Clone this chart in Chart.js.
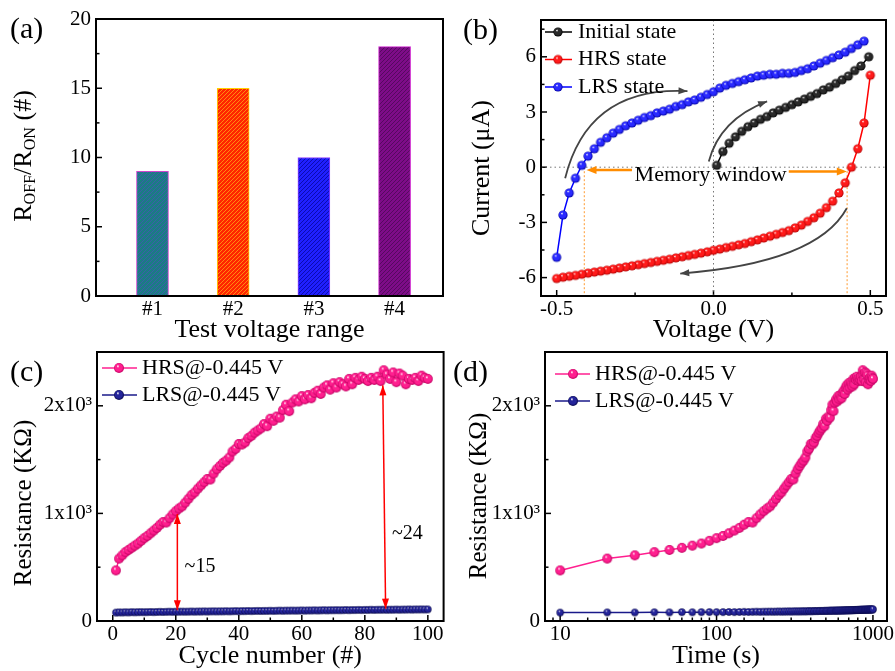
<!DOCTYPE html>
<html>
<head>
<meta charset="utf-8">
<script src="https://cdn.jsdelivr.net/npm/chart.js@4.4.0/dist/chart.umd.min.js"></script>
<style>
  body { margin: 0; background: #fff; width: 895px; height: 671px; position: relative; overflow: hidden;
         font-family: 'Liberation Serif', 'Times New Roman', serif; color: #000; }
  canvas { position: absolute; }
  .lbl { position: absolute; font-size: 30px; line-height: 1; }
  .yt { position: absolute; font-size: 26px; line-height: 1; white-space: nowrap;
        transform: translate(-50%, -50%) rotate(-90deg); }
  .yt sub { font-size: 0.62em; vertical-align: -0.28em; }
</style>
</head>
<body>
<canvas id="chartA" width="450" height="345" style="left:0;top:0"></canvas>
<canvas id="chartB" width="450" height="345" style="left:445px;top:0"></canvas>
<canvas id="chartC" width="450" height="341" style="left:0;top:330px"></canvas>
<canvas id="chartD" width="450" height="341" style="left:445px;top:330px"></canvas>

<div class="lbl" style="left:10px;top:13px">(a)</div>
<div class="lbl" style="left:463px;top:14px">(b)</div>
<div class="lbl" style="left:10px;top:356px">(c)</div>
<div class="lbl" style="left:453px;top:356px">(d)</div>

<div class="yt" style="left:24px;top:156px">R<sub>OFF</sub>/R<sub>ON</sub> (#)</div>
<div class="yt" style="left:481px;top:168px">Current (μA)</div>
<div class="yt" style="left:22px;top:503px;font-size:25px">Resistance (KΩ)</div>
<div class="yt" style="left:477px;top:496px;font-size:25px">Resistance (KΩ)</div>

<script>
// ---- data (a) ----
const rangeLabels = ['#1', '#2', '#3', '#4'];
const rangePos = [1, 2, 3, 4];
const onOffRatio = [9, 15, 10, 18];

// ---- data (b): I-V sweeps ----
const initV = [0.01, 0.03, 0.05, 0.07, 0.09, 0.11, 0.13, 0.15, 0.17, 0.19, 0.21, 0.23, 0.25,
  0.27, 0.29, 0.31, 0.33, 0.35, 0.37, 0.39, 0.41, 0.43, 0.45, 0.47, 0.495];
const initI = [0.1, 0.85, 1.3, 1.65, 1.95, 2.2, 2.4, 2.6, 2.75, 2.95, 3.1, 3.25, 3.4,
  3.55, 3.7, 3.85, 4.0, 4.2, 4.35, 4.55, 4.75, 4.95, 5.25, 5.5, 6.0];

const hrsV = [0.50, 0.48, 0.46, 0.44, 0.42, 0.40, 0.38, 0.36, 0.34, 0.32, 0.30, 0.28, 0.26,
  0.24, 0.22, 0.20, 0.18, 0.16, 0.14, 0.12, 0.10, 0.08, 0.06, 0.04, 0.02, 0.00,
  -0.02, -0.04, -0.06, -0.08, -0.10, -0.12, -0.14, -0.16, -0.18, -0.20, -0.22, -0.24,
  -0.26, -0.28, -0.30, -0.32, -0.34, -0.36, -0.38, -0.40, -0.42, -0.44, -0.46, -0.48, -0.50];
const hrsI = [5.0, 2.4, 1.0, 0.0, -0.85, -1.4, -1.85, -2.2, -2.5, -2.75, -2.95, -3.15, -3.3,
  -3.45, -3.55, -3.65, -3.75, -3.85, -3.95, -4.05, -4.15, -4.22, -4.3, -4.37, -4.45, -4.52,
  -4.6, -4.67, -4.74, -4.8, -4.87, -4.93, -5.0, -5.06, -5.12, -5.18, -5.24, -5.3,
  -5.36, -5.42, -5.48, -5.54, -5.6, -5.65, -5.7, -5.76, -5.82, -5.88, -5.93, -5.98, -6.05];

const lrsV = [-0.50, -0.48, -0.46, -0.44, -0.42, -0.40, -0.38, -0.36, -0.34, -0.32, -0.30,
  -0.28, -0.26, -0.24, -0.22, -0.20, -0.18, -0.16, -0.14, -0.12, -0.10, -0.08, -0.06,
  -0.04, -0.02, 0.00, 0.02, 0.04, 0.06, 0.08, 0.10, 0.12, 0.14, 0.16, 0.18, 0.20, 0.22,
  0.24, 0.26, 0.28, 0.30, 0.32, 0.34, 0.36, 0.38, 0.40, 0.42, 0.44, 0.46, 0.48];
const lrsI = [-4.9, -2.6, -1.4, -0.6, 0.1, 0.6, 1.0, 1.35, 1.6, 1.85, 2.05,
  2.25, 2.4, 2.55, 2.7, 2.8, 2.95, 3.05, 3.15, 3.3, 3.4, 3.55, 3.65,
  3.8, 3.95, 4.1, 4.3, 4.45, 4.55, 4.65, 4.75, 4.85, 4.95, 5.0, 5.05, 5.05, 5.1,
  5.1, 5.15, 5.25, 5.35, 5.5, 5.65, 5.8, 5.95, 6.1, 6.25, 6.45, 6.65, 6.85];

// ---- data (c)/(d): resistance at -0.445 V ----
const cycles = [1, 2, 3, 4, 5, 6, 7, 8, 9, 10, 11, 12, 13, 14, 15, 16, 17, 18, 19, 20,
  21, 22, 23, 24, 25, 26, 27, 28, 29, 30, 31, 32, 33, 34, 35, 36, 37, 38, 39, 40,
  41, 42, 43, 44, 45, 46, 47, 48, 49, 50, 51, 52, 53, 54, 55, 56, 57, 58, 59, 60,
  61, 62, 63, 64, 65, 66, 67, 68, 69, 70, 71, 72, 73, 74, 75, 76, 77, 78, 79, 80,
  81, 82, 83, 84, 85, 86, 87, 88, 89, 90, 91, 92, 93, 94, 95, 96, 97, 98, 99, 100];
const times = [10, 20, 30, 40, 50, 60, 70, 80, 90, 100, 110, 120, 130, 140, 150, 160, 170, 180, 190, 200,
  210, 220, 230, 240, 250, 260, 270, 280, 290, 300, 310, 320, 330, 340, 350, 360, 370, 380, 390, 400,
  410, 420, 430, 440, 450, 460, 470, 480, 490, 500, 510, 520, 530, 540, 550, 560, 570, 580, 590, 600,
  610, 620, 630, 640, 650, 660, 670, 680, 690, 700, 710, 720, 730, 740, 750, 760, 770, 780, 790, 800,
  810, 820, 830, 840, 850, 860, 870, 880, 890, 900, 910, 920, 930, 940, 950, 960, 970, 980, 990, 1000];
const hrsR = [470, 580, 610, 640, 660, 680, 700, 720, 745, 770,
  790, 815, 840, 865, 895, 920, 915, 955, 990, 1020,
  1045, 1065, 1100, 1135, 1170, 1195, 1230, 1260, 1290, 1320,
  1315, 1370, 1410, 1440, 1470, 1490, 1520, 1575, 1600, 1645,
  1640, 1660, 1700, 1720, 1750, 1770, 1790, 1830, 1810, 1880,
  1860, 1900, 1890, 1960, 2010, 1950, 2030, 2060, 2040, 2090,
  2060, 2100, 2070, 2120, 2140, 2110, 2170, 2190, 2150, 2210,
  2170, 2220, 2200, 2180, 2250, 2200, 2260, 2240, 2270, 2250,
  2230, 2260, 2240, 2270, 2230, 2330, 2290, 2250, 2310, 2220,
  2300, 2280, 2200, 2250, 2240, 2260, 2230, 2280, 2260, 2250];
const lrsR = [78, 80, 79, 81, 80, 82, 81, 82, 83, 82, 83, 84, 83, 84, 85, 84, 85, 86, 85, 86,
  86, 87, 86, 87, 88, 87, 88, 88, 89, 88, 89, 90, 89, 90, 90, 91, 90, 91, 92, 91,
  92, 92, 93, 92, 93, 94, 93, 94, 94, 95, 94, 95, 96, 95, 96, 96, 97, 96, 97, 98,
  97, 98, 98, 99, 98, 99, 100, 99, 100, 100, 101, 100, 101, 102, 101, 102, 102, 103, 102, 103,
  103, 104, 103, 104, 104, 105, 104, 105, 105, 106, 105, 106, 106, 107, 106, 107, 107, 108, 107, 108];

// ---- annotation spots (data units) ----
const windowEdges = [-0.412, 0.426];
const ratioNotes = [
  { from: [20.5, 100], to: [20.5, 995], text: '~15', at: [22.8, 505] },
  { from: [86.6, 115], to: [85.7, 2190], text: '~24', at: [88.6, 810] }
];

// ---- common ----
const FONT = "'Liberation Serif', 'Times New Roman', serif";
Chart.defaults.font.family = FONT;
Chart.defaults.color = '#000';

function pts(xs, ys) { return xs.map((x, i) => ({ x: x, y: ys[i] })); }

function ball(color, dark, r) {
  const c = document.createElement('canvas');
  const s = Math.ceil(r * 2 + 2);
  c.width = c.height = s;
  const g = c.getContext('2d');
  const m = s / 2;
  const grad = g.createRadialGradient(m - r * 0.25, m - r * 0.4, r * 0.05, m, m, r);
  grad.addColorStop(0, '#ffffff');
  grad.addColorStop(0.25, color);
  grad.addColorStop(0.7, color);
  grad.addColorStop(1, dark);
  g.fillStyle = grad;
  g.beginPath(); g.arc(m, m, r, 0, Math.PI * 2); g.fill();
  return c;
}

function hatch(base, stripe) {
  const c = document.createElement('canvas');
  c.width = c.height = 4;
  const g = c.getContext('2d');
  g.fillStyle = base; g.fillRect(0, 0, 4, 4);
  g.strokeStyle = stripe; g.lineWidth = 1;
  g.beginPath();
  g.moveTo(0, 4); g.lineTo(4, 0);
  g.moveTo(-2, 2); g.lineTo(2, -2);
  g.moveTo(2, 6); g.lineTo(6, 2);
  g.stroke();
  return g.createPattern(c, 'repeat');
}

function line(ctx, x1, y1, x2, y2) { ctx.beginPath(); ctx.moveTo(x1, y1); ctx.lineTo(x2, y2); ctx.stroke(); }

function head(ctx, fx, fy, tx, ty, len, wid) {
  const a = Math.atan2(ty - fy, tx - fx);
  ctx.beginPath();
  ctx.moveTo(tx, ty);
  ctx.lineTo(tx - len * Math.cos(a) + wid * Math.sin(a), ty - len * Math.sin(a) - wid * Math.cos(a));
  ctx.lineTo(tx - len * Math.cos(a) - wid * Math.sin(a), ty - len * Math.sin(a) + wid * Math.cos(a));
  ctx.closePath(); ctx.fill();
}

// box around the plot + inward tick marks (long where labelled, short otherwise)
const frame = {
  id: 'frame',
  beforeDatasetsDraw(chart) {
    const { ctx, chartArea: a } = chart;
    ctx.save();
    ctx.strokeStyle = '#000'; ctx.lineWidth = 1.5;
    Object.values(chart.scales).forEach(s => {
      s.ticks.forEach(t => {
        const p = s.getPixelForValue(t.value);
        const len = (t.label !== '' && t.label != null) ? 6 : 3.5;
        if (s.isHorizontal()) {
          if (p > a.left + 1 && p < a.right - 1) line(ctx, p, a.bottom, p, a.bottom - len);
        } else {
          if (p > a.top + 1 && p < a.bottom - 1) line(ctx, a.left, p, a.left + len, p);
        }
      });
    });
    ctx.restore();
  },
  afterDraw(chart) {
    const { ctx, chartArea: a } = chart;
    ctx.save();
    ctx.strokeStyle = '#000'; ctx.lineWidth = 2;
    ctx.strokeRect(a.left, a.top, a.right - a.left, a.bottom - a.top);
    ctx.restore();
  }
};

function insideLegend(o) {
  return {
    id: 'insideLegend',
    afterDraw(chart) {
      const ctx = chart.ctx;
      ctx.save();
      ctx.font = o.size + 'px ' + FONT;
      ctx.textBaseline = 'middle';
      o.items.forEach((it, i) => {
        const y = o.y + i * o.dy;
        ctx.strokeStyle = it.color; ctx.lineWidth = 1.5;
        line(ctx, o.x0, y, o.x1, y);
        ctx.drawImage(it.ball, o.xb - it.ball.width / 2, y - it.ball.height / 2);
        ctx.fillStyle = '#000';
        ctx.fillText(it.text, o.xt, y);
      });
      ctx.restore();
    }
  };
}

function ax(o) {
  return {
    type: o.type || 'linear',
    min: o.min, max: o.max,
    offset: false,
    border: { display: false },
    grid: { display: false, drawTicks: false },
    ticks: { autoSkip: false, maxRotation: 0, padding: o.pad, font: { size: 21 }, color: '#000', callback: o.label },
    title: o.title ? { display: true, text: o.title, font: { size: 26, lineHeight: 1 }, padding: { top: 0, bottom: 2 }, color: '#000' }
                   : { display: false },
    afterBuildTicks: o.ticks ? (s => { s.ticks = o.ticks.map(v => ({ value: v })); }) : undefined,
    afterFit: s => { if (s.isHorizontal()) s.height = o.size; else s.width = o.size; }
  };
}

const base = {
  responsive: false, animation: false, devicePixelRatio: 1,
  plugins: { legend: { display: false }, tooltip: { enabled: false } }
};

// ---- (a) bars ----
const barFill = [hatch('#1a7c84', '#3b5ea8'), hatch('#ff2600', '#ff8a10'), hatch('#2020ff', '#0b0bb0'), hatch('#7e0c88', '#55095f')];
const barEdge = ['#cc44cc', '#ffd000', '#9040ff', '#cc22cc'];
new Chart(document.getElementById('chartA'), {
  type: 'bar',
  data: { datasets: [{ data: pts(rangePos, onOffRatio), backgroundColor: barFill, borderColor: barEdge, borderWidth: 1, barThickness: 32 }] },
  options: Object.assign({}, base, {
    layout: { padding: { left: 0, top: 19, right: 7, bottom: 0 } },
    scales: {
      x: ax({ min: 0.3, max: 4.6, ticks: rangePos, pad: 1, size: 49, title: 'Test voltage range', label: v => rangeLabels[rangePos.indexOf(v)] || '' }),
      y: ax({ min: 0, max: 20, ticks: [0, 2.5, 5, 7.5, 10, 12.5, 15, 17.5, 20], pad: 5, size: 96, label: v => v % 5 === 0 ? String(v) : '' })
    }
  }),
  plugins: [frame]
});

// ---- (b) I-V ----
const ballBlack = ball('#2a2a2a', '#000', 4.6);
const ballRed = ball('#ff1a1a', '#b00000', 4.6);
const ballBlue = ball('#2a2aff', '#0000a0', 4.6);

function ivNotes() {
  return {
    id: 'ivNotes',
    beforeDatasetsDraw(chart) {
      const { ctx, chartArea: a, scales: { x, y } } = chart;
      const px = v => x.getPixelForValue(v), py = v => y.getPixelForValue(v);
      ctx.save();
      ctx.lineWidth = 1; ctx.strokeStyle = '#777'; ctx.setLineDash([1.5, 3]);
      line(ctx, px(0), a.top, px(0), a.bottom);
      line(ctx, a.left, py(0), a.right, py(0));
      ctx.strokeStyle = '#ff9a30'; ctx.setLineDash([2, 2]);
      windowEdges.forEach(v => line(ctx, px(v), py(0), px(v), a.bottom));
      ctx.setLineDash([]);
      // memory window arrows
      ctx.strokeStyle = '#ff8c00'; ctx.fillStyle = '#ff8c00'; ctx.lineWidth = 2.5;
      [[-0.26, -0.15, -0.405, -0.15], [0.24, -0.24, 0.425, -0.24]].forEach(r => {
        line(ctx, px(r[0]), py(r[1]), px(r[2]) + (r[2] < 0 ? 8 : -8), py(r[3]));
        head(ctx, px(r[0]), py(r[1]), px(r[2]), py(r[3]), 10, 4);
      });
      // sweep direction arrows
      ctx.strokeStyle = '#444'; ctx.fillStyle = '#444'; ctx.lineWidth = 1.8;
      [[-0.473, -0.6, -0.40, 4.4, -0.083, 4.13],
       [-0.015, 0.31, 0.02, 2.6, 0.171, 3.58],
       [0.425, -2.23, 0.33, -5.2, -0.106, -5.78]].forEach(c => {
        ctx.beginPath();
        ctx.moveTo(px(c[0]), py(c[1]));
        ctx.quadraticCurveTo(px(c[2]), py(c[3]), px(c[4]), py(c[5]));
        ctx.stroke();
        head(ctx, px(c[2]), py(c[3]), px(c[4]), py(c[5]), 9, 3.5);
      });
      ctx.fillStyle = '#000';
      ctx.font = '22px ' + FONT;
      ctx.textAlign = 'center'; ctx.textBaseline = 'middle';
      ctx.fillText('Memory window', px(-0.009), py(-0.45));
      ctx.restore();
    }
  };
}

new Chart(document.getElementById('chartB'), {
  type: 'line',
  data: {
    datasets: [
      { label: 'Initial state', data: pts(initV, initI), borderColor: '#000', borderWidth: 1.5, pointStyle: ballBlack, pointRadius: 4.6, tension: 0 },
      { label: 'HRS state', data: pts(hrsV, hrsI), borderColor: '#ff0000', borderWidth: 1.5, pointStyle: ballRed, pointRadius: 4.6, tension: 0 },
      { label: 'LRS state', data: pts(lrsV, lrsI), borderColor: '#0000ff', borderWidth: 1.5, pointStyle: ballBlue, pointRadius: 4.6, tension: 0 }
    ]
  },
  options: Object.assign({}, base, {
    layout: { padding: { left: 0, top: 20, right: 9, bottom: 0 } },
    scales: {
      x: ax({ min: -0.55, max: 0.55, ticks: [-0.5, -0.25, 0, 0.25, 0.5], pad: 1, size: 49, title: 'Voltage (V)',
              label: v => Math.abs(v * 2 - Math.round(v * 2)) < 1e-9 ? v.toFixed(1) : '' }),
      y: ax({ min: -7, max: 8, ticks: [-6, -4.5, -3, -1.5, 0, 1.5, 3, 4.5, 6, 7.5], pad: 5, size: 96,
              label: v => v % 3 === 0 ? String(v) : '' })
    }
  }),
  plugins: [frame, ivNotes(), insideLegend({
    size: 22, x0: 100, x1: 127, xb: 113, xt: 133, y: 32, dy: 27.5,
    items: [
      { text: 'Initial state', color: '#000', ball: ballBlack },
      { text: 'HRS state', color: '#ff0000', ball: ballRed },
      { text: 'LRS state', color: '#0000ff', ball: ballBlue }
    ]
  })]
});

// ---- (c) and (d) resistance ----
const ballPink = ball('#ff1f8f', '#c00060', 4.9);
const ballNavy = ball('#24249a', '#08084a', 3.7);
const resTicks = [0, 500, 1000, 1500, 2000, 2500];
const resLabel = v => v === 0 ? '0' : (v % 1000 === 0 ? (v / 1000) + 'x10³' : '');
const resLegend = [
  { text: 'HRS@-0.445 V', color: '#ff1f8f', ball: ball('#ff1f8f', '#c00060', 5) },
  { text: 'LRS@-0.445 V', color: '#1a1a8a', ball: ball('#24249a', '#08084a', 5) }
];

function ratioArrows() {
  return {
    id: 'ratioArrows',
    afterDatasetsDraw(chart) {
      const { ctx, scales: { x, y } } = chart;
      ctx.save();
      ctx.strokeStyle = '#ff0000'; ctx.fillStyle = '#ff0000'; ctx.lineWidth = 1.5;
      ratioNotes.forEach(n => {
        const x1 = x.getPixelForValue(n.from[0]), y1 = y.getPixelForValue(n.from[1]);
        const x2 = x.getPixelForValue(n.to[0]), y2 = y.getPixelForValue(n.to[1]);
        line(ctx, x1, y1, x2, y2);
        head(ctx, x1, y1, x2, y2, 10, 3.5);
        head(ctx, x2, y2, x1, y1, 10, 3.5);
      });
      ctx.fillStyle = '#000';
      ctx.font = '20px ' + FONT;
      ctx.textBaseline = 'middle';
      ratioNotes.forEach(n => ctx.fillText(n.text, x.getPixelForValue(n.at[0]), y.getPixelForValue(n.at[1])));
      ctx.restore();
    }
  };
}

function resDatasets(xs) {
  return [
    { label: 'HRS@-0.445 V', data: pts(xs, hrsR), borderColor: '#ff1f8f', borderWidth: 1.5, pointStyle: ballPink, pointRadius: 4.9, tension: 0 },
    { label: 'LRS@-0.445 V', data: pts(xs, lrsR), borderColor: '#1a1a8a', borderWidth: 1.5, pointStyle: ballNavy, pointRadius: 3.7, tension: 0 }
  ];
}

new Chart(document.getElementById('chartC'), {
  type: 'line',
  data: { datasets: resDatasets(cycles) },
  options: Object.assign({}, base, {
    layout: { padding: { left: 0, top: 22, right: 6, bottom: 0 } },
    scales: {
      x: ax({ min: -5, max: 105, ticks: [0, 10, 20, 30, 40, 50, 60, 70, 80, 90, 100], pad: 1, size: 50, title: 'Cycle number (#)',
              label: v => v % 20 === 0 ? String(v) : '' }),
      y: ax({ min: 0, max: 2500, ticks: resTicks, pad: 5, size: 97, label: resLabel })
    }
  }),
  plugins: [frame, ratioArrows(), insideLegend({ size: 22, x0: 102, x1: 137, xb: 119, xt: 142, y: 38, dy: 27, items: resLegend })]
});

new Chart(document.getElementById('chartD'), {
  type: 'line',
  data: { datasets: resDatasets(times) },
  options: Object.assign({}, base, {
    layout: { padding: { left: 0, top: 22, right: 8, bottom: 0 } },
    scales: {
      x: ax({ type: 'logarithmic', min: 8, max: 1230, pad: 1, size: 50, title: 'Time (s)',
              label: v => (v === 10 || v === 100 || v === 1000) ? String(v) : '' }),
      y: ax({ min: 0, max: 2500, ticks: resTicks, pad: 5, size: 100, label: resLabel })
    }
  }),
  plugins: [frame, insideLegend({ size: 22, x0: 110, x1: 145, xb: 128, xt: 150, y: 44, dy: 27, items: resLegend })]
});
</script>
</body>
</html>
